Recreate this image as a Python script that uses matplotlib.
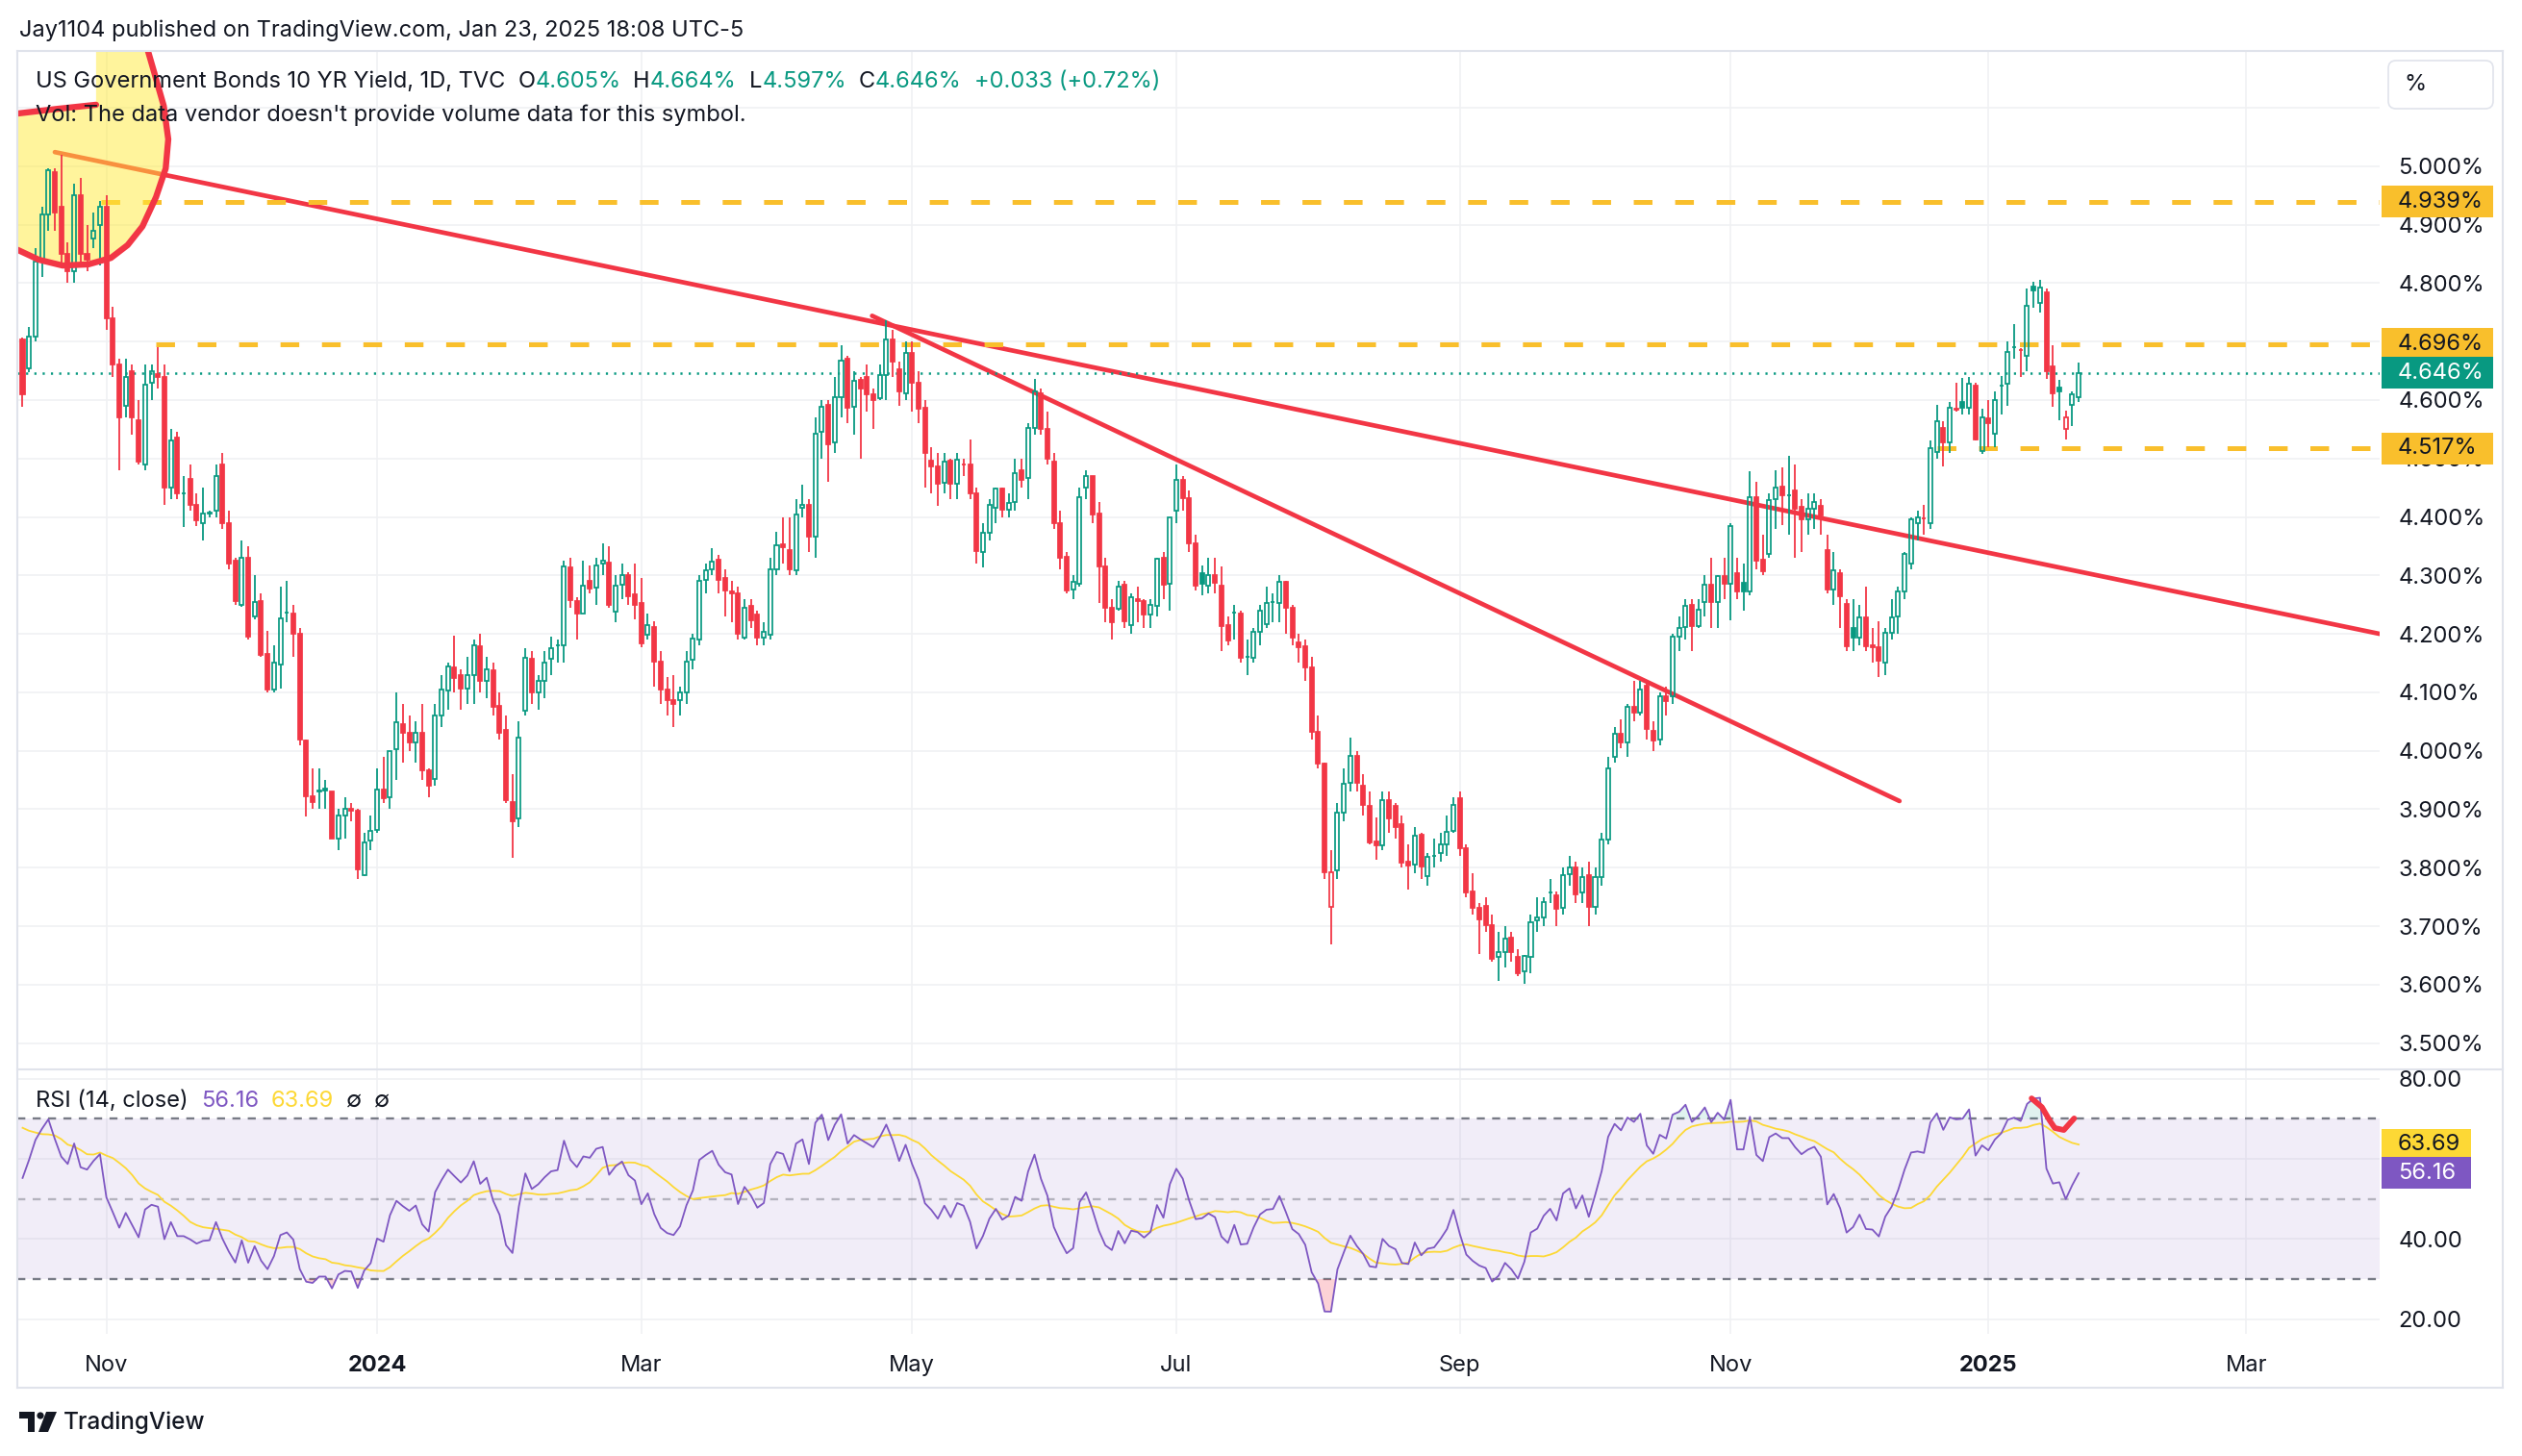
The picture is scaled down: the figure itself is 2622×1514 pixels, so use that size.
import matplotlib
matplotlib.use("Agg")
import matplotlib.pyplot as plt
import matplotlib.transforms as mtrans
from matplotlib.collections import LineCollection
from matplotlib.patches import Rectangle, Polygon, FancyBboxPatch, Circle
import numpy as np
import pandas as pd

# ---------------- data (US10Y daily, TVC) ----------------
# closes before the visible window, only used to warm up the RSI
warmup_closes = [4.05, 4.08, 4.18, 4.04, 4.09, 4.02, 4.01, 4.11, 4.16, 4.19, 4.21, 4.26, 4.30, 4.25, 4.34, 4.33,
                 4.19, 4.24, 4.24, 4.20, 4.12, 4.12, 4.09,
                 4.18, 4.26, 4.30, 4.26, 4.26, 4.29, 4.27, 4.25, 4.29, 4.33, 4.32, 4.37, 4.40, 4.49, 4.44, 4.54,
                 4.56, 4.61, 4.59, 4.57,
                 4.68, 4.80, 4.73, 4.72, 4.78, 4.65, 4.56, 4.70]

# market holidays with no bar (Thanksgiving 2023 has a flat bar, Jan 9 2025 has a bar)
holidays = ["2023-09-04", "2023-10-09", "2023-12-25", "2024-01-01", "2024-01-15", "2024-02-19", "2024-03-29",
            "2024-05-27", "2024-06-19", "2024-07-04", "2024-09-02", "2024-10-14", "2024-11-11", "2024-11-28",
            "2024-12-25", "2025-01-01", "2025-01-20", "2025-02-17"]

opens = [
    4.703, 4.654, 4.708, 4.84, 4.917, 4.99, 4.93, 4.85, 4.82, 4.95, 4.85, 4.877, 4.90,
    4.93, 4.74, 4.66, 4.59, 4.65, 4.565, 4.49, 4.63, 4.645, 4.64, 4.45, 4.535, 4.44, 4.465, 4.42, 4.39, 4.405, 4.41, 4.49, 4.39, 4.325, 4.25,
    4.33, 4.23, 4.256, 4.166, 4.105, 4.148, 4.237, 4.234, 4.20, 4.018, 3.922, 3.93, 3.935, 3.93, 3.85, 3.89, 3.90, 3.897, 3.788, 3.847,
    3.864, 3.933, 3.92, 4.003, 4.046, 4.03, 4.014, 4.03, 3.966, 3.952, 4.06, 4.103, 4.143, 4.13, 4.107, 4.13, 4.178, 4.12, 4.137, 4.076, 4.035,
    3.913, 3.884, 4.069, 4.158, 4.10, 4.12, 4.158, 4.18, 4.18, 4.314, 4.256, 4.234, 4.29, 4.279, 4.32, 4.322, 4.238, 4.284, 4.30, 4.268,
    4.252, 4.198, 4.211, 4.152, 4.105, 4.087, 4.087, 4.10, 4.156, 4.19, 4.292, 4.31, 4.326, 4.295, 4.273, 4.27, 4.193, 4.248, 4.233, 4.193,
    4.199, 4.31, 4.353, 4.344, 4.308, 4.415, 4.42, 4.366, 4.546, 4.592, 4.527, 4.604, 4.67, 4.588, 4.634, 4.64, 4.61, 4.603, 4.643, 4.703, 4.653, 4.611,
    4.681, 4.63, 4.587, 4.497, 4.487, 4.458, 4.497, 4.457, 4.49, 4.49, 4.44, 4.34, 4.373, 4.415, 4.448, 4.412, 4.426, 4.48, 4.466, 4.552, 4.611, 4.55,
    4.495, 4.39, 4.331, 4.276, 4.285, 4.45, 4.47, 4.405, 4.316, 4.244, 4.243, 4.284, 4.215, 4.26, 4.256, 4.233, 4.248, 4.33, 4.286,
    4.41, 4.464, 4.432, 4.355, 4.304, 4.282, 4.30, 4.282, 4.215, 4.237, 4.234, 4.161, 4.159, 4.203, 4.217, 4.255, 4.253, 4.289, 4.245, 4.186, 4.178, 4.142,
    4.033, 3.978, 3.733, 3.795, 3.895, 3.945, 3.992, 3.941, 3.905, 3.845, 3.839, 3.915, 3.905, 3.875, 3.81, 3.806, 3.856, 3.786, 3.821, 3.825, 3.84, 3.863,
    3.919, 3.833, 3.759, 3.732, 3.735, 3.702, 3.647, 3.655, 3.68, 3.648, 3.622, 3.648, 3.71, 3.715, 3.757, 3.752, 3.732, 3.789, 3.80, 3.758,
    3.787, 3.733, 3.784, 3.848, 3.989, 4.029, 4.015, 4.075, 4.066, 4.112, 4.034, 4.019, 4.093, 4.094, 4.195, 4.211, 4.25, 4.213, 4.255, 4.284, 4.255, 4.299,
    4.286, 4.303, 4.288, 4.273, 4.434, 4.326, 4.336, 4.43, 4.452, 4.437, 4.446, 4.417, 4.396, 4.414, 4.419, 4.343, 4.276, 4.303, 4.251,
    4.21, 4.194, 4.228, 4.18, 4.177, 4.151, 4.202, 4.23, 4.273, 4.321, 4.39, 4.397, 4.39, 4.511, 4.552, 4.528, 4.585, 4.597, 4.586, 4.625, 4.513,
    4.569, 4.543, 4.625, 4.628, 4.69, 4.685, 4.676, 4.794, 4.766, 4.784, 4.658, 4.621, 4.551, 4.592, 4.605,
]
highs = [
    4.706, 4.725, 4.86, 4.93, 4.997, 4.997, 5.02, 4.87, 4.97, 4.98, 4.90, 4.92, 4.94,
    4.95, 4.76, 4.67, 4.67, 4.66, 4.60, 4.66, 4.66, 4.69, 4.66, 4.55, 4.545, 4.47, 4.49, 4.44, 4.45, 4.41, 4.49, 4.51, 4.41, 4.33, 4.36,
    4.35, 4.30, 4.27, 4.205, 4.18, 4.28, 4.29, 4.25, 4.21, 4.02, 3.97, 3.97, 3.95, 3.93, 3.90, 3.92, 3.91, 3.90, 3.86, 3.89,
    3.97, 3.99, 4.00, 4.10, 4.08, 4.06, 4.05, 4.08, 3.97, 4.08, 4.13, 4.15, 4.197, 4.14, 4.16, 4.19, 4.20, 4.16, 4.15, 4.10, 4.06,
    3.96, 4.05, 4.176, 4.17, 4.13, 4.17, 4.195, 4.19, 4.325, 4.33, 4.262, 4.325, 4.317, 4.33, 4.354, 4.35, 4.30, 4.32, 4.305, 4.32,
    4.295, 4.235, 4.222, 4.17, 4.126, 4.13, 4.11, 4.17, 4.20, 4.30, 4.32, 4.347, 4.335, 4.31, 4.29, 4.28, 4.26, 4.26, 4.24, 4.22,
    4.33, 4.375, 4.40, 4.40, 4.43, 4.455, 4.43, 4.57, 4.60, 4.60, 4.64, 4.693, 4.675, 4.65, 4.64, 4.66, 4.62, 4.66, 4.737, 4.72, 4.665, 4.70,
    4.70, 4.65, 4.60, 4.52, 4.51, 4.51, 4.50, 4.51, 4.50, 4.533, 4.45, 4.39, 4.43, 4.45, 4.45, 4.44, 4.50, 4.50, 4.56, 4.636, 4.62, 4.58,
    4.51, 4.41, 4.34, 4.30, 4.45, 4.48, 4.47, 4.426, 4.33, 4.26, 4.29, 4.29, 4.27, 4.28, 4.26, 4.26, 4.33, 4.34, 4.40,
    4.49, 4.47, 4.445, 4.37, 4.317, 4.33, 4.33, 4.315, 4.23, 4.25, 4.24, 4.19, 4.21, 4.25, 4.28, 4.27, 4.30, 4.29, 4.25, 4.20, 4.19, 4.16,
    4.06, 3.98, 3.83, 3.91, 3.97, 4.022, 4.0, 3.96, 3.93, 3.886, 3.93, 3.93, 3.91, 3.89, 3.84, 3.87, 3.86, 3.825, 3.85, 3.86, 3.89, 3.92,
    3.93, 3.84, 3.79, 3.74, 3.75, 3.72, 3.69, 3.70, 3.69, 3.66, 3.65, 3.72, 3.75, 3.75, 3.78, 3.76, 3.80, 3.82, 3.81, 3.80,
    3.81, 3.80, 3.86, 3.99, 4.04, 4.054, 4.08, 4.12, 4.12, 4.12, 4.05, 4.10, 4.11, 4.20, 4.23, 4.26, 4.26, 4.26, 4.30, 4.33, 4.30, 4.33,
    4.39, 4.33, 4.32, 4.478, 4.46, 4.37, 4.44, 4.48, 4.484, 4.505, 4.49, 4.43, 4.44, 4.44, 4.43, 4.369, 4.34, 4.31, 4.26,
    4.26, 4.25, 4.28, 4.21, 4.221, 4.21, 4.26, 4.28, 4.34, 4.40, 4.41, 4.42, 4.53, 4.592, 4.563, 4.597, 4.63, 4.638, 4.64, 4.63, 4.585,
    4.60, 4.615, 4.641, 4.70, 4.73, 4.688, 4.79, 4.802, 4.806, 4.79, 4.693, 4.635, 4.581, 4.615, 4.664,
]
lows = [
    4.588, 4.648, 4.70, 4.81, 4.89, 4.89, 4.83, 4.80, 4.80, 4.83, 4.82, 4.86, 4.83,
    4.72, 4.64, 4.48, 4.57, 4.54, 4.49, 4.48, 4.60, 4.62, 4.42, 4.43, 4.43, 4.382, 4.41, 4.385, 4.36, 4.40, 4.40, 4.38, 4.31, 4.25, 4.247,
    4.19, 4.225, 4.16, 4.10, 4.10, 4.106, 4.22, 4.16, 4.009, 3.887, 3.90, 3.90, 3.90, 3.85, 3.83, 3.85, 3.88, 3.78, 3.785, 3.83,
    3.86, 3.91, 3.90, 3.95, 3.98, 4.00, 3.98, 3.95, 3.92, 3.94, 4.04, 4.07, 4.10, 4.07, 4.08, 4.08, 4.10, 4.09, 4.06, 4.02, 3.91,
    3.817, 3.87, 4.06, 4.08, 4.07, 4.09, 4.13, 4.15, 4.15, 4.245, 4.19, 4.234, 4.27, 4.25, 4.30, 4.245, 4.22, 4.26, 4.25, 4.225,
    4.177, 4.19, 4.11, 4.08, 4.06, 4.04, 4.06, 4.08, 4.14, 4.18, 4.27, 4.30, 4.27, 4.23, 4.22, 4.19, 4.19, 4.21, 4.18, 4.18,
    4.19, 4.30, 4.32, 4.30, 4.30, 4.40, 4.34, 4.33, 4.50, 4.46, 4.51, 4.57, 4.56, 4.54, 4.50, 4.58, 4.55, 4.60, 4.60, 4.64, 4.59, 4.60,
    4.58, 4.56, 4.45, 4.44, 4.419, 4.44, 4.43, 4.43, 4.47, 4.43, 4.32, 4.314, 4.36, 4.39, 4.40, 4.40, 4.41, 4.45, 4.43, 4.54, 4.54, 4.49,
    4.38, 4.31, 4.27, 4.26, 4.28, 4.43, 4.39, 4.252, 4.22, 4.19, 4.24, 4.21, 4.20, 4.22, 4.21, 4.21, 4.23, 4.26, 4.24,
    4.39, 4.41, 4.34, 4.274, 4.266, 4.27, 4.27, 4.17, 4.18, 4.19, 4.15, 4.13, 4.15, 4.18, 4.21, 4.22, 4.22, 4.20, 4.18, 4.15, 4.12, 4.02,
    3.97, 3.78, 3.669, 3.78, 3.88, 3.93, 3.93, 3.89, 3.84, 3.813, 3.83, 3.86, 3.85, 3.80, 3.763, 3.79, 3.78, 3.77, 3.80, 3.81, 3.82, 3.86,
    3.82, 3.75, 3.72, 3.652, 3.69, 3.64, 3.606, 3.63, 3.64, 3.615, 3.602, 3.62, 3.69, 3.70, 3.74, 3.70, 3.72, 3.77, 3.74, 3.74,
    3.70, 3.72, 3.77, 3.84, 3.98, 4.005, 3.99, 4.05, 4.06, 4.02, 4.00, 4.01, 4.06, 4.08, 4.17, 4.19, 4.17, 4.21, 4.23, 4.21, 4.21, 4.26,
    4.224, 4.26, 4.24, 4.266, 4.31, 4.30, 4.33, 4.38, 4.386, 4.37, 4.33, 4.34, 4.37, 4.38, 4.37, 4.27, 4.25, 4.21, 4.17,
    4.17, 4.18, 4.17, 4.15, 4.126, 4.13, 4.19, 4.20, 4.26, 4.31, 4.36, 4.37, 4.38, 4.50, 4.487, 4.51, 4.58, 4.575, 4.575, 4.53, 4.507,
    4.52, 4.52, 4.575, 4.59, 4.67, 4.64, 4.65, 4.757, 4.75, 4.636, 4.588, 4.566, 4.532, 4.556, 4.597,
]
closes = [
    4.61, 4.708, 4.836, 4.917, 4.993, 4.92, 4.85, 4.82, 4.95, 4.85, 4.84, 4.89, 4.93,
    4.74, 4.66, 4.57, 4.64, 4.57, 4.494, 4.626, 4.65, 4.64, 4.45, 4.53, 4.44, 4.44, 4.42, 4.395, 4.405, 4.407, 4.47, 4.39, 4.32, 4.256, 4.33,
    4.196, 4.255, 4.164, 4.105, 4.15, 4.227, 4.237, 4.20, 4.02, 3.922, 3.912, 3.932, 3.932, 3.85, 3.89, 3.90, 3.897, 3.797, 3.843, 3.863,
    3.933, 3.919, 4.00, 4.049, 4.03, 4.014, 4.03, 3.966, 3.94, 4.06, 4.104, 4.144, 4.125, 4.107, 4.13, 4.18, 4.12, 4.14, 4.075, 4.03, 3.915,
    3.88, 4.023, 4.159, 4.10, 4.12, 4.15, 4.175, 4.18, 4.316, 4.257, 4.234, 4.282, 4.278, 4.317, 4.325, 4.25, 4.282, 4.30, 4.264, 4.25,
    4.183, 4.215, 4.152, 4.105, 4.087, 4.08, 4.10, 4.152, 4.192, 4.29, 4.308, 4.323, 4.292, 4.275, 4.27, 4.20, 4.245, 4.224, 4.193, 4.204,
    4.311, 4.352, 4.348, 4.311, 4.404, 4.42, 4.366, 4.542, 4.588, 4.524, 4.604, 4.667, 4.587, 4.632, 4.62, 4.61, 4.60, 4.643, 4.703, 4.666, 4.614, 4.681,
    4.63, 4.585, 4.51, 4.487, 4.457, 4.495, 4.457, 4.498, 4.49, 4.44, 4.341, 4.373, 4.42, 4.448, 4.413, 4.424, 4.475, 4.464, 4.552, 4.614, 4.55, 4.50,
    4.39, 4.33, 4.275, 4.289, 4.434, 4.47, 4.404, 4.315, 4.244, 4.22, 4.28, 4.222, 4.262, 4.256, 4.233, 4.249, 4.329, 4.284, 4.40,
    4.464, 4.432, 4.355, 4.282, 4.285, 4.30, 4.287, 4.214, 4.188, 4.237, 4.159, 4.161, 4.204, 4.24, 4.253, 4.255, 4.289, 4.245, 4.193, 4.177, 4.142, 4.033,
    3.978, 3.793, 3.792, 3.895, 3.943, 3.992, 3.945, 3.907, 3.844, 3.839, 3.915, 3.884, 3.87, 3.808, 3.803, 3.855, 3.802, 3.818, 3.821, 3.84, 3.862, 3.907,
    3.833, 3.757, 3.731, 3.712, 3.702, 3.644, 3.655, 3.679, 3.655, 3.619, 3.649, 3.707, 3.715, 3.742, 3.757, 3.729, 3.788, 3.80, 3.755, 3.784,
    3.733, 3.784, 3.848, 3.97, 4.029, 4.015, 4.075, 4.066, 4.104, 4.037, 4.018, 4.093, 4.085, 4.195, 4.21, 4.248, 4.213, 4.242, 4.284, 4.255, 4.299, 4.286,
    4.385, 4.273, 4.273, 4.434, 4.326, 4.307, 4.429, 4.45, 4.437, 4.437, 4.414, 4.396, 4.414, 4.425, 4.403, 4.276, 4.308, 4.264, 4.179,
    4.194, 4.228, 4.179, 4.177, 4.154, 4.202, 4.228, 4.273, 4.336, 4.396, 4.40, 4.397, 4.518, 4.563, 4.528, 4.587, 4.583, 4.586, 4.628, 4.532, 4.571,
    4.56, 4.60, 4.625, 4.682, 4.691, 4.685, 4.761, 4.788, 4.792, 4.65, 4.611, 4.615, 4.571, 4.61, 4.646,
]

# values printed by the indicator (legend / scale labels)
rsi_label = "56.16"
rsi_ma_label = "63.69"

# user drawings (bar index, price)
trend1_x = [5.0, 365.7]
trend1_y = [5.024, 4.200]
trend2_x = [131.8, 291.2]
trend2_y = [4.744, 3.914]
levels = [4.939, 4.696, 4.517]
level_start = [12.2, 20.7, 297.0]
last_price = 4.646
circle_x = [18.9, 20.4, 21.9, 22.6, 22.2, 20.7, 18.6, 16.3, 13.7, 10.2, 6.2, 2.5, -0.8]
circle_y = [5.218, 5.161, 5.103, 5.046, 4.996, 4.947, 4.897, 4.865, 4.843, 4.832, 4.830, 4.840, 4.857]
stroke_x = [-0.8, 5.4, 11.4]
stroke_y = [5.090, 5.098, 5.105]
hook_x = [311.7, 313.3, 314.5, 315.3, 316.7, 318.3]   # RSI pane
hook_y = [75.1, 72.9, 69.6, 67.7, 67.2, 70.1]

# ---------------- style ----------------
W, H = 2622, 1514
GREEN, RED = "#089981", "#F23645"
TXT = "#131722"
GRID = "#F0F1F3"
BORDER = "#E0E3EB"
LEVEL = "#F9BF2C"
PURPLE, YELLOW = "#7E57C2", "#FDD835"
FS = 17

plt.rcParams["font.family"] = ["Inter", "DejaVu Sans"]
plt.rcParams["lines.scale_dashes"] = False

fig = plt.figure(figsize=(W / 100, H / 100), dpi=100)
fig.patch.set_facecolor("white")
ID = mtrans.IdentityTransform()


def P(px, py):
    return px, H - py


def fx(px):
    return px / W


def fy(py):
    return 1 - py / H


ax = fig.add_axes([fx(18), fy(1112), fx(2474) - fx(18), fy(53) - fy(1112)])
axr = fig.add_axes([fx(18), fy(1387), fx(2474) - fx(18), fy(1113) - fy(1387)], sharex=ax)

# ---------------- calendar ----------------
dates = pd.bdate_range("2023-08-01", "2025-04-30", freq="C", holidays=holidays)
nw = len(warmup_closes)
o, h, l, c = (np.array(v, dtype=float) for v in (opens, highs, lows, closes))
h = np.maximum(h, np.maximum(o, c))
l = np.minimum(l, np.minimum(o, c))
x = np.arange(len(c))

# month ticks (odd months, January shows the year)
tick_pos, tick_lab = [], []
prev_m = None
for i, d in enumerate(dates):
    key = (d.year, d.month)
    if key != prev_m:
        prev_m = key
        xi = i - nw
        if -1 <= xi <= 366 and d.month % 2 == 1:
            tick_pos.append(xi)
            tick_lab.append(str(d.year) if d.month == 1 else d.strftime("%b"))

# ---------------- main pane ----------------
ax.set_xlim(-0.82, 365.7)
ax.set_ylim(3.455, 5.197)
for s in ax.spines.values():
    s.set_visible(False)
for s in axr.spines.values():
    s.set_visible(False)

yt = np.round(np.arange(3.5, 5.15, 0.1), 1)
ax.set_yticks(yt)
ax.set_yticklabels([f"{v:.3f}%" if v <= 5.0 else "" for v in yt])
ax.yaxis.tick_right()
ax.tick_params(axis="y", length=0, pad=14, labelsize=FS, labelcolor=TXT)
ax.set_xticks(tick_pos)
ax.tick_params(axis="x", length=0, labelbottom=False)
ax.grid(True, color=GRID, lw=1.2, zorder=0)
ax.set_axisbelow(True)

# trend lines (under the highlighter)
ax.plot(trend1_x, trend1_y, color=RED, lw=3.4, zorder=2, solid_capstyle="round")
ax.plot(trend2_x, trend2_y, color=RED, lw=3.4, zorder=2, solid_capstyle="round")

# highlighter blob + red outline
blob = list(zip(stroke_x, stroke_y)) + [(11.4, 5.3), (18.9, 5.3)] + list(zip(circle_x, circle_y))
ax.add_patch(Polygon(blob, closed=True, facecolor="#FFEB3B", alpha=0.5, edgecolor="none", zorder=3))

# horizontal levels
for lv, xs in zip(levels, level_start):
    ax.plot([xs, 366], [lv, lv], color=LEVEL, lw=3.6, dashes=(14, 17), zorder=2)
ax.axhline(last_price, color=GREEN, lw=1.8, dashes=(1.6, 4.6), zorder=2)

# candles
prev_close = np.r_[warmup_closes[-1], c[:-1]]
col = np.where(c >= prev_close, GREEN, RED)
hollow = c > o
top = np.maximum(o, c)
bot = np.minimum(o, c)
segs = [[(xi, hi), (xi, ti)] for xi, hi, ti in zip(x, h, top)] + \
       [[(xi, bi), (xi, li)] for xi, bi, li in zip(x, bot, l)]
ax.add_collection(LineCollection(segs, colors=list(col) + list(col), linewidths=1.3, zorder=4))
ax.bar(x, top - bot, bottom=bot, width=0.6, color=np.where(hollow, "none", col),
       edgecolor=col, linewidth=1.25, zorder=5)

ax.plot(circle_x, circle_y, color=RED, lw=4.6, zorder=6, solid_capstyle="round", solid_joinstyle="round")
ax.plot(stroke_x, stroke_y, color=RED, lw=4.6, zorder=6, solid_capstyle="round")

# price labels on the scale
tr = mtrans.blended_transform_factory(fig.transFigure, ax.transData)
hh = 16.5 / 608
for lv, bg, fg in [(4.939, LEVEL, TXT), (4.517, LEVEL, TXT), (4.696, LEVEL, TXT), (last_price, GREEN, "white")]:
    ax.add_patch(Rectangle((fx(2476), lv - hh), fx(2592) - fx(2476), 2 * hh, transform=tr,
                           facecolor=bg, edgecolor="none", clip_on=False, zorder=10))
    ax.text(fx(2493), lv, f"{lv:.3f}%", transform=tr, ha="left", va="center",
            fontsize=FS, color=fg, zorder=11, clip_on=False)

# ---------------- RSI pane ----------------
allc = np.array(warmup_closes + closes)
d = np.diff(allc)
gain = np.where(d > 0, d, 0.0)
loss = np.where(d < 0, -d, 0.0)
n = 14
ag = np.full(len(d), np.nan)
al = np.full(len(d), np.nan)
ag[n - 1] = gain[:n].mean()
al[n - 1] = loss[:n].mean()
for i in range(n, len(d)):
    ag[i] = (ag[i - 1] * (n - 1) + gain[i]) / n
    al[i] = (al[i - 1] * (n - 1) + loss[i]) / n
rsi_all = 100 - 100 / (1 + ag / al)
ma_all = pd.Series(rsi_all).rolling(14).mean().values
rsi = rsi_all[nw - 1:]
rsi_ma = ma_all[nw - 1:]

axr.set_ylim(16.33, 82.09)
axr.set_yticks([20, 40, 60, 80])
axr.set_yticklabels(["20.00", "40.00", "", "80.00"])   # 60.00 sits behind the value labels
axr.yaxis.tick_right()
axr.tick_params(axis="y", length=0, pad=14, labelsize=FS, labelcolor=TXT)
axr.set_xticks(tick_pos)
axr.set_xticklabels(tick_lab)
axr.tick_params(axis="x", length=0, pad=16, labelsize=FS, labelcolor=TXT)
for lab in axr.get_xticklabels():
    if lab.get_text().isdigit():
        lab.set_fontweight("bold")
axr.grid(True, color=GRID, lw=1.2, zorder=0)
axr.set_axisbelow(True)

axr.axhspan(30, 70, color=PURPLE, alpha=0.1, lw=0, zorder=1)
axr.axhline(70, color="#787B86", lw=1.7, dashes=(6, 5.5), zorder=2)
axr.axhline(30, color="#787B86", lw=1.7, dashes=(6, 5.5), zorder=2)
axr.axhline(50, color="#787B86", lw=1.7, alpha=0.5, dashes=(6, 5.5), zorder=2)
axr.fill_between(x, rsi, 70, where=rsi > 70, interpolate=True, color=GREEN, alpha=0.12, lw=0, zorder=2)
axr.fill_between(x, rsi, 30, where=rsi < 30, interpolate=True, color=RED, alpha=0.22, lw=0, zorder=2)
axr.plot(x, rsi_ma, color=YELLOW, lw=1.3, zorder=3)
axr.plot(x, rsi, color=PURPLE, lw=1.3, zorder=4)
axr.plot(hook_x, hook_y, color=RED, lw=4.2, zorder=5, solid_capstyle="round", solid_joinstyle="round")

trr = mtrans.blended_transform_factory(fig.transFigure, axr.transData)
hr = 16.5 / 4.167
for val, txt, bg, fg in [(rsi_ma[-1], rsi_ma_label, YELLOW, TXT), (rsi[-1], rsi_label, PURPLE, "white")]:
    axr.add_patch(Rectangle((fx(2476), val - hr), fx(2569) - fx(2476), 2 * hr, transform=trr,
                            facecolor=bg, edgecolor="none", clip_on=False, zorder=10))
    axr.text(fx(2493), val, txt, transform=trr, ha="left", va="center",
             fontsize=FS, color=fg, zorder=11, clip_on=False)

# ---------------- frame ----------------
for (x0, y0, x1, y1) in [(18, 53, 2602, 53), (18, 1112, 2602, 1112), (18, 1443, 2602, 1443),
                         (18, 53, 18, 1443), (2602, 53, 2602, 1443)]:
    fig.add_artist(plt.Line2D([x0, x1], [H - y0, H - y1], transform=ID, color=BORDER, lw=1.5))
fig.add_artist(FancyBboxPatch(P(2483, 113), 109, 50, boxstyle="round,pad=0,rounding_size=8",
                              transform=ID, facecolor="white", edgecolor=BORDER, lw=1.2))
fig.text(*P(2511, 88), "%", transform=ID, ha="center", va="center", fontsize=FS, color=TXT)

# ---------------- texts ----------------
renderer = fig.canvas.get_renderer()


def runs(px, py, parts, size=FS):
    xx = px
    for s, color, gap in parts:
        t = fig.text(*P(xx, py), s, transform=ID, ha="left", va="center", fontsize=size, color=color)
        xx += t.get_window_extent(renderer).width + gap


runs(20, 32, [("Jay1104 published on TradingView.com, Jan 23, 2025 18:08 UTC-5", TXT, 0)])
runs(37, 85, [("US Government Bonds 10 YR Yield, 1D, TVC", TXT, 13),
              ("O", TXT, 0), ("4.605%", GREEN, 13),
              ("H", TXT, 0), ("4.664%", GREEN, 13),
              ("L", TXT, 0), ("4.597%", GREEN, 13),
              ("C", TXT, 0), ("4.646%", GREEN, 13),
              ("+0.033 (+0.72%)", GREEN, 0)])
runs(37, 120, [("Vol: The data vendor doesn't provide volume data for this symbol.", TXT, 0)])
runs(37, 1145, [("RSI (14, close)", TXT, 13), (rsi_label, PURPLE, 13),
                (rsi_ma_label, YELLOW, 13), ("\u2205", TXT, 13), ("\u2205", TXT, 0)])

# TradingView logo
fig.add_artist(Rectangle(P(20, 1475), 16, 7, transform=ID, facecolor=TXT, edgecolor="none"))
fig.add_artist(Rectangle(P(29, 1489), 7, 21, transform=ID, facecolor=TXT, edgecolor="none"))
fig.add_artist(Circle(P(42, 1472), 3.6, transform=ID, facecolor=TXT, edgecolor="none"))
fig.add_artist(Polygon([P(48, 1468), P(59, 1468), P(50, 1489), P(40, 1489)], closed=True,
                       transform=ID, facecolor=TXT, edgecolor="none"))
fig.text(*P(66, 1479), "TradingView", transform=ID, ha="left", va="center", fontsize=17.5,
         color=TXT, fontweight="medium")

fig.savefig("out.png", dpi=100, facecolor="white")
